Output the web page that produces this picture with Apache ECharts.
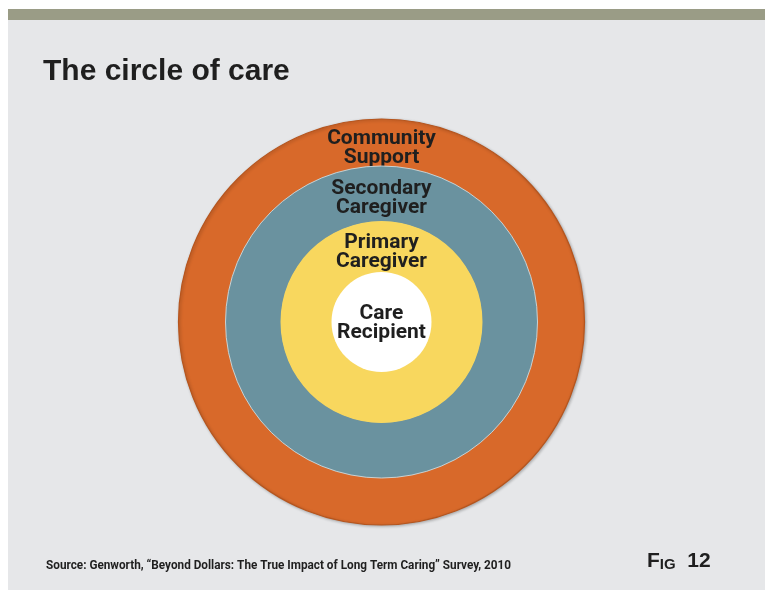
<!DOCTYPE html>
<html>
<head>
<meta charset="utf-8">
<title>The circle of care</title>
<script src="https://cdn.jsdelivr.net/npm/echarts@6/dist/echarts.min.js"></script>
<style>
  html, body { margin: 0; padding: 0; background: #ffffff; }
  #chart { width: 765px; height: 590px; }
</style>
</head>
<body>
<div id="chart"></div>
<script>
// Rings of care, from the outermost circle to the centre
const ringNames = ['Community\nSupport', 'Secondary\nCaregiver', 'Primary\nCaregiver', 'Care\nRecipient'];
// Each ring is one full circle
const ringValues = [1, 1, 1, 1];
const ringColors = ['#D8692A', '#6A929F', '#F8D75E', '#FFFFFF'];

const titleText = 'The circle of care';
const sourceText = 'Source: Genworth, \u201CBeyond Dollars: The True Impact of Long Term Caring\u201D Survey, 2010';
const figLabel = ['F', 'IG', '12'];

// Ring radii (inner, outer) in pixels and the vertical nudge of each ring's label
const ringRadii = [[150, 203], [100, 156], [48, 101], [0, 50]];
const labelNudge = [6, 7, 8, 1];
const centre = [381.5, 322];

const labelFont = {
  fontFamily: 'Roboto, "Liberation Sans", sans-serif',
  fontWeight: 'bold',
  fontSize: 21,
  lineHeight: 19,
  color: '#1F1F1F'
};

const series = ringNames.map((name, i) => {
  const isCore = ringRadii[i][0] === 0;
  const itemStyle = { color: ringColors[i] };
  if (i === 0) {
    itemStyle.borderColor = '#B5551E';
    itemStyle.borderWidth = 1.2;
    itemStyle.shadowBlur = 3;
    itemStyle.shadowColor = 'rgba(0,0,0,0.25)';
    itemStyle.shadowOffsetX = 1;
    itemStyle.shadowOffsetY = 1;
  } else if (i === 1) {
    itemStyle.borderColor = 'rgba(205,218,222,0.9)';
    itemStyle.borderWidth = 1;
  }
  return {
    type: 'pie',
    silent: true,
    center: centre,
    radius: ringRadii[i],
    startAngle: 270,
    clockwise: true,
    animation: false,
    z: 2 + i,
    labelLine: { show: false },
    emphasis: { disabled: true },
    labelLayout: { dy: labelNudge[i] },
    label: Object.assign({
      show: true,
      position: isCore ? 'center' : 'inside',
      formatter: '{b}',
      align: 'center',
      verticalAlign: 'middle',
      padding: isCore ? [0, 0, 0, 0] : [6, 0, 0, 0]
    }, labelFont),
    itemStyle: itemStyle,
    data: [{ name: name, value: ringValues[i] }]
  };
});

const chart = echarts.init(document.getElementById('chart'), null, { renderer: 'canvas' });
chart.setOption({
  backgroundColor: '#ffffff',
  animation: false,
  title: {
    text: titleText,
    left: 43,
    top: 56,
    padding: 0,
    textStyle: {
      fontFamily: '"Liberation Sans", Arial, sans-serif',
      fontWeight: 'bold',
      fontSize: 30,
      lineHeight: 32,
      color: '#1F1F1F'
    }
  },
  graphic: [
    { type: 'rect', z: -10, silent: true, shape: { x: 8, y: 20, width: 757, height: 570 }, style: { fill: '#E6E7E9' } },
    { type: 'rect', z: -10, silent: true, shape: { x: 8, y: 9, width: 757, height: 11 }, style: { fill: '#9A9C86' } },
    {
      type: 'text', silent: true, x: 46, y: 566, scaleX: 0.98,
      style: {
        text: sourceText,
        fontFamily: 'Roboto, "Liberation Sans", sans-serif',
        fontWeight: 'bold',
        fontSize: 12,
        fill: '#1F1F1F',
        verticalAlign: 'middle'
      }
    },
    {
      type: 'text', silent: true, x: 647, y: 572,
      style: {
        text: '{a|' + figLabel[0] + '}{b|' + figLabel[1] + '}{a|  ' + figLabel[2] + '}',
        verticalAlign: 'bottom',
        rich: {
          a: { fontFamily: '"Liberation Sans", Arial, sans-serif', fontWeight: 'bold', fontSize: 21, fill: '#1F1F1F', verticalAlign: 'bottom' },
          b: { fontFamily: '"Liberation Sans", Arial, sans-serif', fontWeight: 'bold', fontSize: 15, fill: '#1F1F1F', verticalAlign: 'bottom' }
        }
      }
    }
  ],
  series: series
});
</script>
</body>
</html>
